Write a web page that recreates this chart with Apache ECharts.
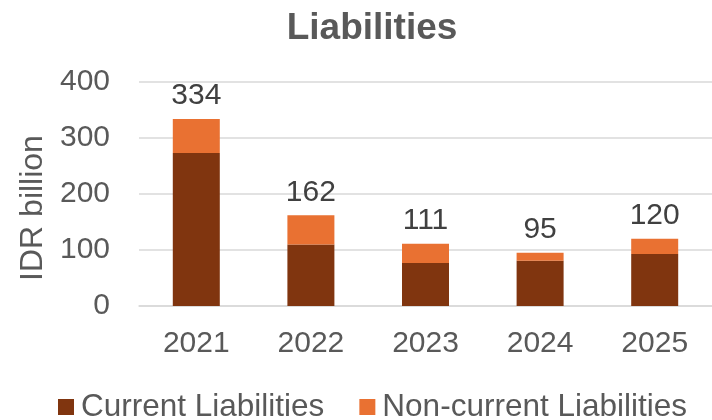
<!DOCTYPE html>
<html>
<head>
<meta charset="utf-8">
<script src="https://cdn.jsdelivr.net/npm/echarts@6/dist/echarts.min.js"></script>
<style>
  html, body { margin: 0; padding: 0; background: #fff; }
  #chart { width: 712px; height: 420px; }
</style>
</head>
<body>
<div id="chart"></div>
<script>
// data
var years = ['2021', '2022', '2023', '2024', '2025'];
var currentLiab = [273, 110, 77, 81, 93];
var nonCurrentLiab = [61, 52, 34, 14, 27];
var totals = [334, 162, 111, 95, 120];
var yTicks = [0, 100, 200, 300, 400];

var font = 'Liberation Sans, Arial, sans-serif';
var myChart = echarts.init(document.getElementById('chart'));

var option = {
    animation: false,
    textStyle: { fontFamily: font },
    title: {
        text: 'Liabilities',
        left: 367,
        textAlign: 'center',
        top: 5,
        textStyle: { fontSize: 37, fontWeight: 'bold', color: '#595959', fontFamily: font }
    },
    legend: {
        data: ['Current Liabilities', 'Non-current Liabilities'],
        left: 53,
        top: 386,
        itemWidth: 16,
        itemHeight: 16,
        itemGap: 35,
        icon: 'rect',
        textStyle: { fontSize: 31.5, color: '#595959', fontFamily: font, padding: [0, 0, 0, 2] }
    },
    grid: {
        left: 139,
        top: 82,
        width: 585,
        height: 224
    },
    xAxis: {
        type: 'category',
        data: years,
        axisTick: { show: false },
        axisLine: { lineStyle: { color: '#d9d9d9', width: 1.5 } },
        axisLabel: { fontSize: 30, color: '#595959', margin: 23, fontFamily: font }
    },
    yAxis: {
        type: 'value',
        min: yTicks[0],
        max: yTicks[yTicks.length - 1],
        interval: 100,
        name: 'IDR billion',
        nameLocation: 'middle',
        nameGap: 90,
        nameTextStyle: { fontSize: 32, color: '#595959', fontFamily: font, padding: [0, 28, 0, 0] },
        axisLabel: { fontSize: 30, color: '#595959', margin: 29, fontFamily: font },
        splitLine: { lineStyle: { color: '#d9d9d9', width: 1.5 } },
        axisLine: { show: false },
        axisTick: { show: false }
    },
    series: [
        {
            name: 'Current Liabilities',
            type: 'bar',
            stack: 'total',
            barWidth: 47,
            itemStyle: { color: '#80350F' },
            data: currentLiab
        },
        {
            name: 'Non-current Liabilities',
            type: 'bar',
            stack: 'total',
            barWidth: 47,
            itemStyle: { color: '#E97132' },
            label: {
                show: true,
                position: 'top',
                distance: 8,
                fontSize: 30,
                color: '#404040',
                fontFamily: font,
                formatter: function (p) { return totals[p.dataIndex]; }
            },
            data: nonCurrentLiab
        }
    ]
};

myChart.setOption(option);
</script>
</body>
</html>
